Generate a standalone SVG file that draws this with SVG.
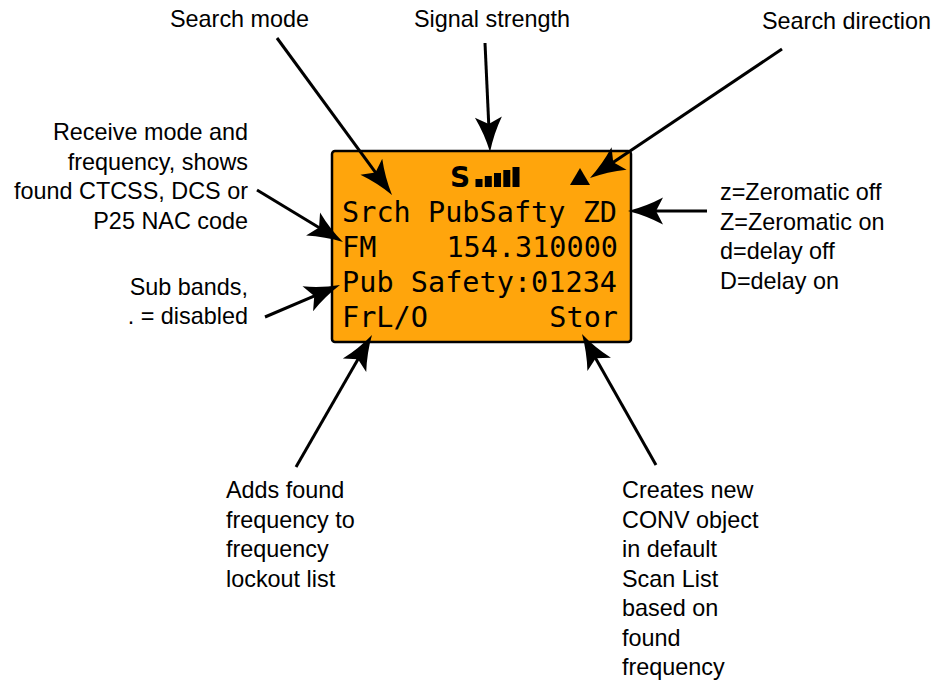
<svg xmlns="http://www.w3.org/2000/svg" width="937" height="683" viewBox="0 0 937 683">
<style>
.lbl{font-family:"Liberation Sans",Arial,Helvetica,sans-serif;font-size:23.4px;fill:#000}
.r{text-anchor:end}
.lcd{font-family:"DejaVu Sans Mono","Liberation Mono",monospace;font-size:28.5px;fill:#000}
.conn{fill:none;stroke:#000;stroke-width:3;marker-end:url(#ah)}
</style>
<defs>
<marker id="ah" markerUnits="userSpaceOnUse" markerWidth="60" markerHeight="40" viewBox="-40 -20 60 40" refX="-20" refY="0" orient="auto" overflow="visible">
<path d="M0,0 Q-18,-4.5 -35,-13.5 L-28,0 L-35,13.5 Q-18,4.5 0,0 Z" fill="#000"/>
</marker>
</defs>
<rect width="937" height="683" fill="#fff"/>
<g id="display">
<rect x="332" y="151" width="299" height="191" rx="3" fill="#FFA50C" stroke="#000" stroke-width="2.5"/>
<text x="450" y="187" style="font-family:'DejaVu Sans',sans-serif;font-weight:bold;font-size:28px">S</text>
<rect x="475.5" y="179" width="7" height="8" fill="#000"/>
<rect x="484.8" y="176" width="7" height="11" fill="#000"/>
<rect x="494" y="173" width="7" height="14" fill="#000"/>
<rect x="503.3" y="170" width="7" height="17" fill="#000"/>
<rect x="512.5" y="167" width="7" height="20" fill="#000"/>
<polygon points="570,185 590,185 580,168" fill="#000"/>
<text class="lcd" x="342" y="221.7" textLength="275" lengthAdjust="spacing">Srch PubSafty ZD</text>
<text class="lcd" x="342" y="256.7">FM</text>
<text class="lcd" x="618" y="256.7" text-anchor="end">154.310000</text>
<text class="lcd" x="342" y="291.7" textLength="275" lengthAdjust="spacing">Pub Safety:01234</text>
<text class="lcd" x="342" y="326.7">FrL/O</text>
<text class="lcd" x="618" y="326.7" text-anchor="end">Stor</text>
</g>
<g id="search-mode"><text class="lbl" x="170" y="27">Search mode</text></g>
<g id="signal-strength"><text class="lbl" x="414" y="27">Signal strength</text></g>
<g id="search-direction"><text class="lbl" x="762" y="29">Search direction</text></g>
<g id="receive-mode">
<text class="lbl r" x="248" y="140">Receive mode and</text>
<text class="lbl r" x="248" y="169.5">frequency, shows</text>
<text class="lbl r" x="248" y="199">found CTCSS, DCS or</text>
<text class="lbl r" x="248" y="228.5">P25 NAC code</text>
</g>
<g id="sub-bands">
<text class="lbl r" x="248" y="295">Sub bands,</text>
<text class="lbl r" x="248" y="324">. = disabled</text>
</g>
<g id="zeromatic">
<text class="lbl" x="720" y="200">z=Zeromatic off</text>
<text class="lbl" x="720" y="229.5">Z=Zeromatic on</text>
<text class="lbl" x="720" y="259">d=delay off</text>
<text class="lbl" x="720" y="288.5">D=delay on</text>
</g>
<g id="lockout">
<text class="lbl" x="226" y="498">Adds found</text>
<text class="lbl" x="226" y="527.5">frequency to</text>
<text class="lbl" x="226" y="557">frequency</text>
<text class="lbl" x="226" y="586.5">lockout list</text>
</g>
<g id="store">
<text class="lbl" x="622" y="498">Creates new</text>
<text class="lbl" x="622" y="527.5">CONV object</text>
<text class="lbl" x="622" y="557">in default</text>
<text class="lbl" x="622" y="586.5">Scan List</text>
<text class="lbl" x="622" y="616">based on</text>
<text class="lbl" x="622" y="645.5">found</text>
<text class="lbl" x="622" y="675">frequency</text>
</g>
<g id="connectors">
<path class="conn" d="M277,38 L380.2,178.9"/>
<path class="conn" d="M485,43 L489.1,132"/>
<path class="conn" d="M782,49 L606.6,166.8"/>
<path class="conn" d="M707,211 L648,211"/>
<path class="conn" d="M257,190 L325.9,231.7"/>
<path class="conn" d="M265,317 L321.6,292.9"/>
<path class="conn" d="M296,467 L362,352.3"/>
<path class="conn" d="M656,465 L591.8,351.4"/>
</g>
</svg>
